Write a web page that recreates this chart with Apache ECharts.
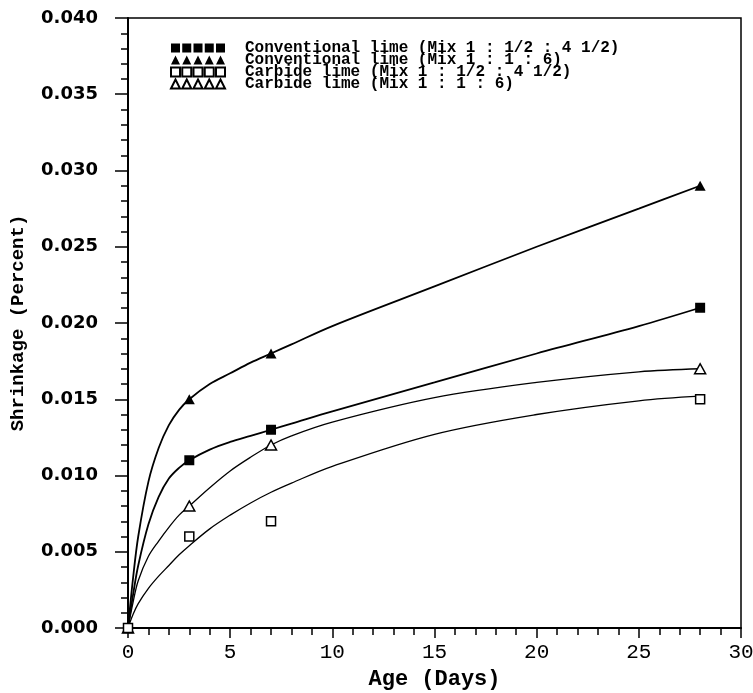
<!DOCTYPE html>
<html>
<head>
<meta charset="utf-8">
<script src="https://cdn.jsdelivr.net/npm/echarts@6/dist/echarts.min.js"></script>
<style>
html,body{margin:0;padding:0;background:#fff;}
#chart{width:753px;height:693px;}
</style>
</head>
<body>
<div id="chart"></div>
<script>
// Measured points
const pointDays = [0, 3, 7, 28];
const convHalf = [0, 0.011, 0.013, 0.021];      // Conventional lime (Mix 1 : 1/2 : 4 1/2)
const convOne = [0, 0.015, 0.018, 0.029];       // Conventional lime (Mix 1 : 1 : 6)
const carbHalf = [0, 0.006, 0.007, 0.015];      // Carbide lime (Mix 1 : 1/2 : 4 1/2)
const carbOne = [0, 0.008, 0.012, 0.017];       // Carbide lime (Mix 1 : 1 : 6)

// Fitted curves
const curveDays     = [0, 0.25, 0.5, 1, 1.5, 2, 2.5, 3, 4, 5, 6, 7, 8, 10, 15, 20, 25, 28];
const convHalfCurve = [0, 0.0022, 0.0041, 0.0068, 0.0086, 0.0098, 0.0105, 0.0110, 0.0117, 0.0122, 0.0126, 0.0130, 0.0134, 0.0142, 0.0161, 0.0180, 0.0198, 0.021];
const convOneCurve  = [0, 0.0033, 0.0060, 0.0096, 0.0118, 0.0133, 0.0143, 0.0150, 0.0160, 0.0167, 0.0174, 0.0180, 0.0186, 0.0198, 0.0224, 0.0250, 0.0275, 0.029];
const carbHalfCurve = [0, 0.0009, 0.0016, 0.0026, 0.0034, 0.0041, 0.0048, 0.0054, 0.0065, 0.0074, 0.0082, 0.0089, 0.0095, 0.0106, 0.0127, 0.0140, 0.0149, 0.0152];
const carbOneCurve  = [0, 0.0017, 0.0031, 0.0047, 0.0057, 0.0066, 0.0074, 0.0080, 0.0092, 0.0103, 0.0112, 0.0120, 0.0126, 0.0135, 0.0151, 0.0161, 0.0168, 0.017];

const names = [
  'Conventional lime (Mix 1 : 1/2 : 4 1/2)',
  'Conventional lime (Mix 1 : 1 : 6)',
  'Carbide lime (Mix 1 : 1/2 : 4 1/2)',
  'Carbide lime (Mix 1 : 1 : 6)'
];
const xTicks = [0, 5, 10, 15, 20, 25, 30];

function pairs(xs, ys){ return xs.map((x,i)=>[x, ys[i]]); }

const sqPath = 'path://M0,0h10v10h-10z M12.5,0h10v10h-10z M25,0h10v10h-10z M37.5,0h10v10h-10z M50,0h10v10h-10z';
const triPath = 'path://M0,10L5,0L10,10z M12.5,10L17.5,0L22.5,10z M25,10L30,0L35,10z M37.5,10L42.5,0L47.5,10z M50,10L55,0L60,10z';

function curve(data, w){
  return {type:'line', data:data, smooth:0.35, showSymbol:false, symbol:'none',
    lineStyle:{color:'#000', width:w}, silent:true, z:2};
}

const mono = 'Liberation Mono';
const chart = echarts.init(document.getElementById('chart'), null, {renderer:'canvas'});
chart.setOption({
  animation:false,
  backgroundColor:'#fff',
  grid:{left:128, top:18, width:613, height:610, show:true, borderColor:'#000', borderWidth:1.5,
        containLabel:false, outerBoundsMode:'none'},
  legend:{
    orient:'vertical', left:165, top:35, itemGap:-4, itemWidth:60, itemHeight:9,
    textStyle:{fontFamily:mono, fontWeight:'bold', fontSize:16, color:'#000', padding:[0,0,0,12]},
    data:[
      {name:names[0], icon:sqPath},
      {name:names[1], icon:triPath},
      {name:names[2], icon:sqPath},
      {name:names[3], icon:triPath}
    ]
  },
  xAxis:{
    type:'value', min:0, max:30, interval:5,
    axisLine:{lineStyle:{color:'#000', width:2}},
    axisTick:{inside:false, length:10, lineStyle:{color:'#000', width:1.5}},
    minorTick:{show:true, splitNumber:5, length:7, lineStyle:{color:'#000', width:1.5}},
    splitLine:{show:false},
    axisLabel:{fontFamily:mono, fontSize:21, color:'#000', margin:14,
      formatter:(v)=> xTicks.includes(v) ? String(v) : ''},
    name:'Age (Days)', nameLocation:'middle', nameGap:40,
    nameTextStyle:{fontFamily:mono, fontWeight:'bold', fontSize:22, color:'#000'}
  },
  yAxis:{
    type:'value', min:0, max:0.04, interval:0.005,
    axisLine:{show:true, lineStyle:{color:'#000', width:2}},
    axisTick:{show:true, inside:false, length:13, lineStyle:{color:'#000', width:1.5}},
    minorTick:{show:true, splitNumber:5, length:7, lineStyle:{color:'#000', width:1.5}},
    splitLine:{show:false},
    axisLabel:{fontFamily:'DejaVu Sans', fontWeight:'bold', fontSize:18, color:'#000', margin:30,
      formatter:(v)=> v.toFixed(3)},
    name:'Shrinkage (Percent)', nameLocation:'middle', nameGap:100, nameRotate:90,
    nameTextStyle:{fontFamily:mono, fontWeight:'bold', fontSize:19, color:'#000'}
  },
  series:[
    curve(pairs(curveDays, convOneCurve), 1.8),
    curve(pairs(curveDays, convHalfCurve), 1.8),
    curve(pairs(curveDays, carbOneCurve), 1.3),
    curve(pairs(curveDays, carbHalfCurve), 1.3),
    {type:'scatter', name:names[1], data:pairs(pointDays, convOne), symbol:'triangle', symbolSize:[11,10],
      itemStyle:{color:'#000', borderColor:'#000', borderWidth:0, opacity:1}, z:3},
    {type:'scatter', name:names[3], data:pairs(pointDays, carbOne), symbol:'triangle', symbolSize:[11,10],
      itemStyle:{color:'#fff', borderColor:'#000', borderWidth:1.5, opacity:1}, z:3},
    {type:'scatter', name:names[0], data:pairs(pointDays, convHalf), symbol:'rect', symbolSize:10,
      itemStyle:{color:'#000', borderColor:'#000', borderWidth:0, opacity:1}, z:4},
    {type:'scatter', name:names[2], data:pairs(pointDays, carbHalf), symbol:'rect', symbolSize:9,
      itemStyle:{color:'#fff', borderColor:'#000', borderWidth:1.5, opacity:1}, z:4}
  ]
});
</script>
</body>
</html>
